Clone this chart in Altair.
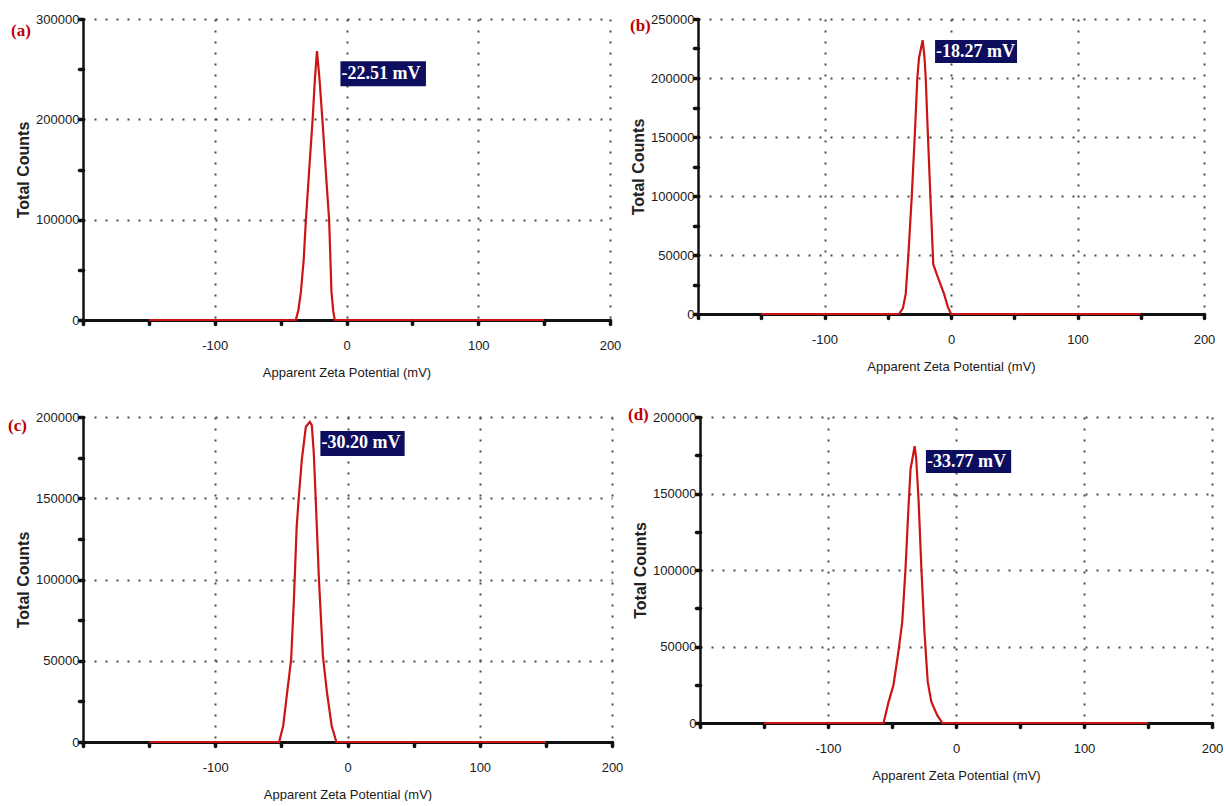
import altair as alt
import pandas as pd

# ---------------- data ----------------
# (a)
x_a = [-150, -38.5, -36.5, -34.6, -32.5, -30.8, -28.3, -25.7, -24.0, -22.4, -20.5, -18.3, -15.8, -13.2, -11.4, -10.0, -8.9, 150]
y_a = [0, 0, 10000, 28000, 60000, 100000, 150000, 200000, 240000, 268000, 240000, 200000, 150000, 100000, 28000, 8000, 0, 0]
# (b)
x_b = [-150, -41.0, -38.0, -35.8, -33.7, -31.0, -28.7, -26.6, -25.3, -22.4, -21.0, -20.0, -18.2, -16.3, -14.0, -10.0, -5.5, -2.5, 0.0, 150]
y_b = [0, 0, 5000, 17000, 50000, 100000, 150000, 200000, 217000, 232000, 218000, 200000, 150000, 100000, 42000, 30000, 17000, 6000, 0, 0]
# (c)
x_c = [-150, -51.7, -48.6, -46.5, -42.6, -40.5, -38.4, -36.6, -34.5, -31.5, -28.5, -27.0, -25.5, -24.0, -21.6, -18.6, -15.6, -12.0, -8.4, 150]
y_c = [0, 0, 10000, 24500, 51000, 88000, 133000, 153000, 174000, 194000, 197000, 195000, 178000, 149000, 100000, 53000, 31000, 10000, 0, 0]
# (d)
x_d = [-150, -56.6, -52.6, -48.8, -45.1, -42.0, -39.5, -37.0, -35.5, -32.3, -31.1, -29.2, -27.1, -24.6, -22.1, -19.3, -14.6, -10.6, 150]
y_d = [0, 0, 14000, 25000, 46000, 66000, 100000, 143000, 166000, 181000, 173000, 145000, 102000, 59000, 27000, 14000, 5000, 0, 0]

curves_x = [x_a, x_b, x_c, x_d]
curves_y = [y_a, y_b, y_c, y_d]

panel_letters = ["(a)", "(b)", "(c)", "(d)"]
zeta_labels = ["-22.51 mV", "-18.27 mV", "-30.20 mV", "-33.77 mV"]

y_max = [300000, 250000, 200000, 200000]
y_label_step = [100000, 50000, 50000, 50000]
y_tick_step = [50000, 25000, 25000, 25000]

x_tick_values = [-200, -150, -100, -50, 0, 50, 100, 150, 200]

# annotation box corners, in data units
box_x0 = [-4.6, -12.6, -20.5, -23.5]
box_x1 = [60.3, 52.2, 43.2, 43.1]
box_y0 = [233000, 212700, 176000, 163400]
box_y1 = [258000, 232200, 191400, 178400]

# ---------------- styling ----------------
NUM_FONT = "Liberation Sans, Arial, sans-serif"
TITLE_FONT = "Liberation Sans, Arial, sans-serif"
SERIF = "Liberation Serif, Times New Roman, serif"

panel_w = [527, 506, 529, 512]
panel_h = [301, 295, 325, 306]
letter_dx = [-72, -68, -75, -72]
letter_dy = [12, 7, 9, -2]


def make_panel(i):
    xaxis = alt.Axis(
        values=x_tick_values,
        title="Apparent Zeta Potential (mV)",
        labelExpr="datum.value % 100 === 0 && datum.value > -200 ? '' + datum.value : ''",
        labelFont=NUM_FONT, labelFontSize=13, labelColor="#1a1a1a",
        labelPadding=15, labelFlush=False, labelOverlap=False,
        titleFont=NUM_FONT, titleFontSize=13, titleFontWeight="normal",
        titleColor="#1a1a1a", titlePadding=14,
        domainColor="#111111", domainWidth=3,
        tickColor="#111111", tickWidth=3.5, tickSize=4, tickCap="round",
        grid=True, gridColor="#4a4a4a", gridWidth=2, gridDash=[2, 9],
        gridOpacity={"condition": {"test": "datum.value % 100 === 0 && datum.value > -200", "value": 1}, "value": 0},
    )
    step = y_label_step[i]
    yaxis = alt.Axis(
        values=list(range(0, y_max[i] + 1, y_tick_step[i])),
        title="Total Counts",
        labelExpr="datum.value %% %d === 0 ? '' + datum.value : ''" % step,
        labelFont=NUM_FONT, labelFontSize=13, labelColor="#1a1a1a",
        labelPadding=0, labelOverlap=False,
        titleFont=TITLE_FONT, titleFontSize=16, titleFontWeight="bold",
        titleColor="#222222", titlePadding=4,
        domainColor="#111111", domainWidth=2.5,
        tickColor="#111111", tickWidth=3.5, tickSize=4, tickCap="round",
        grid=True, gridColor="#4a4a4a", gridWidth=2, gridDash=[2, 9],
        gridOpacity={"condition": {"test": "datum.value %% %d === 0 && datum.value > 0" % step, "value": 1}, "value": 0},
    )
    xscale = alt.Scale(domain=[-200, 200], nice=False, zero=False)
    yscale = alt.Scale(domain=[0, y_max[i]], nice=False)

    curve = pd.DataFrame({"x": curves_x[i], "y": curves_y[i]})
    line = alt.Chart(curve).mark_line(color="#cc1414", strokeWidth=2.2).encode(
        x=alt.X("x:Q", scale=xscale, axis=xaxis, title="Apparent Zeta Potential (mV)"),
        y=alt.Y("y:Q", scale=yscale, axis=yaxis, title="Total Counts"),
    )

    box_df = pd.DataFrame({"x": [box_x0[i]], "x2": [box_x1[i]], "y": [box_y0[i]], "y2": [box_y1[i]],
                           "ym": [(box_y0[i] + box_y1[i]) / 2], "t": [zeta_labels[i]]})
    box = alt.Chart(box_df).mark_rect(color="#0e0e5e").encode(
        x=alt.X("x:Q", scale=xscale, axis=xaxis, title="Apparent Zeta Potential (mV)"),
        x2="x2:Q",
        y=alt.Y("y:Q", scale=yscale, axis=yaxis, title="Total Counts"),
        y2="y2:Q",
    )
    txt = alt.Chart(box_df).mark_text(
        align="left", baseline="middle", dx=1, color="white",
        font=SERIF, fontSize=18, fontWeight="bold",
    ).encode(
        x=alt.X("x:Q", scale=xscale, axis=xaxis, title="Apparent Zeta Potential (mV)"),
        y=alt.Y("ym:Q", scale=yscale, axis=yaxis, title="Total Counts"),
        text="t:N",
    )
    letter_df = pd.DataFrame({"t": [panel_letters[i]]})
    letter = alt.Chart(letter_df).mark_text(
        align="left", baseline="middle", color="#c00000",
        font=SERIF, fontSize=17, fontWeight="bold",
    ).encode(x=alt.value(letter_dx[i]), y=alt.value(letter_dy[i]), text="t:N")

    return alt.layer(line, box, txt, letter).properties(width=panel_w[i], height=panel_h[i])


row1 = alt.hconcat(make_panel(0), make_panel(1), spacing=9)
row2 = alt.hconcat(make_panel(2), make_panel(3), spacing=5)
chart = alt.vconcat(row1, row2, spacing=27).properties(
    padding={"left": 8, "top": 13, "right": 0, "bottom": 0},
    background="white",
).configure_view(strokeWidth=0)

chart.save("out.html", embed_options={"renderer": "svg", "actions": False})
